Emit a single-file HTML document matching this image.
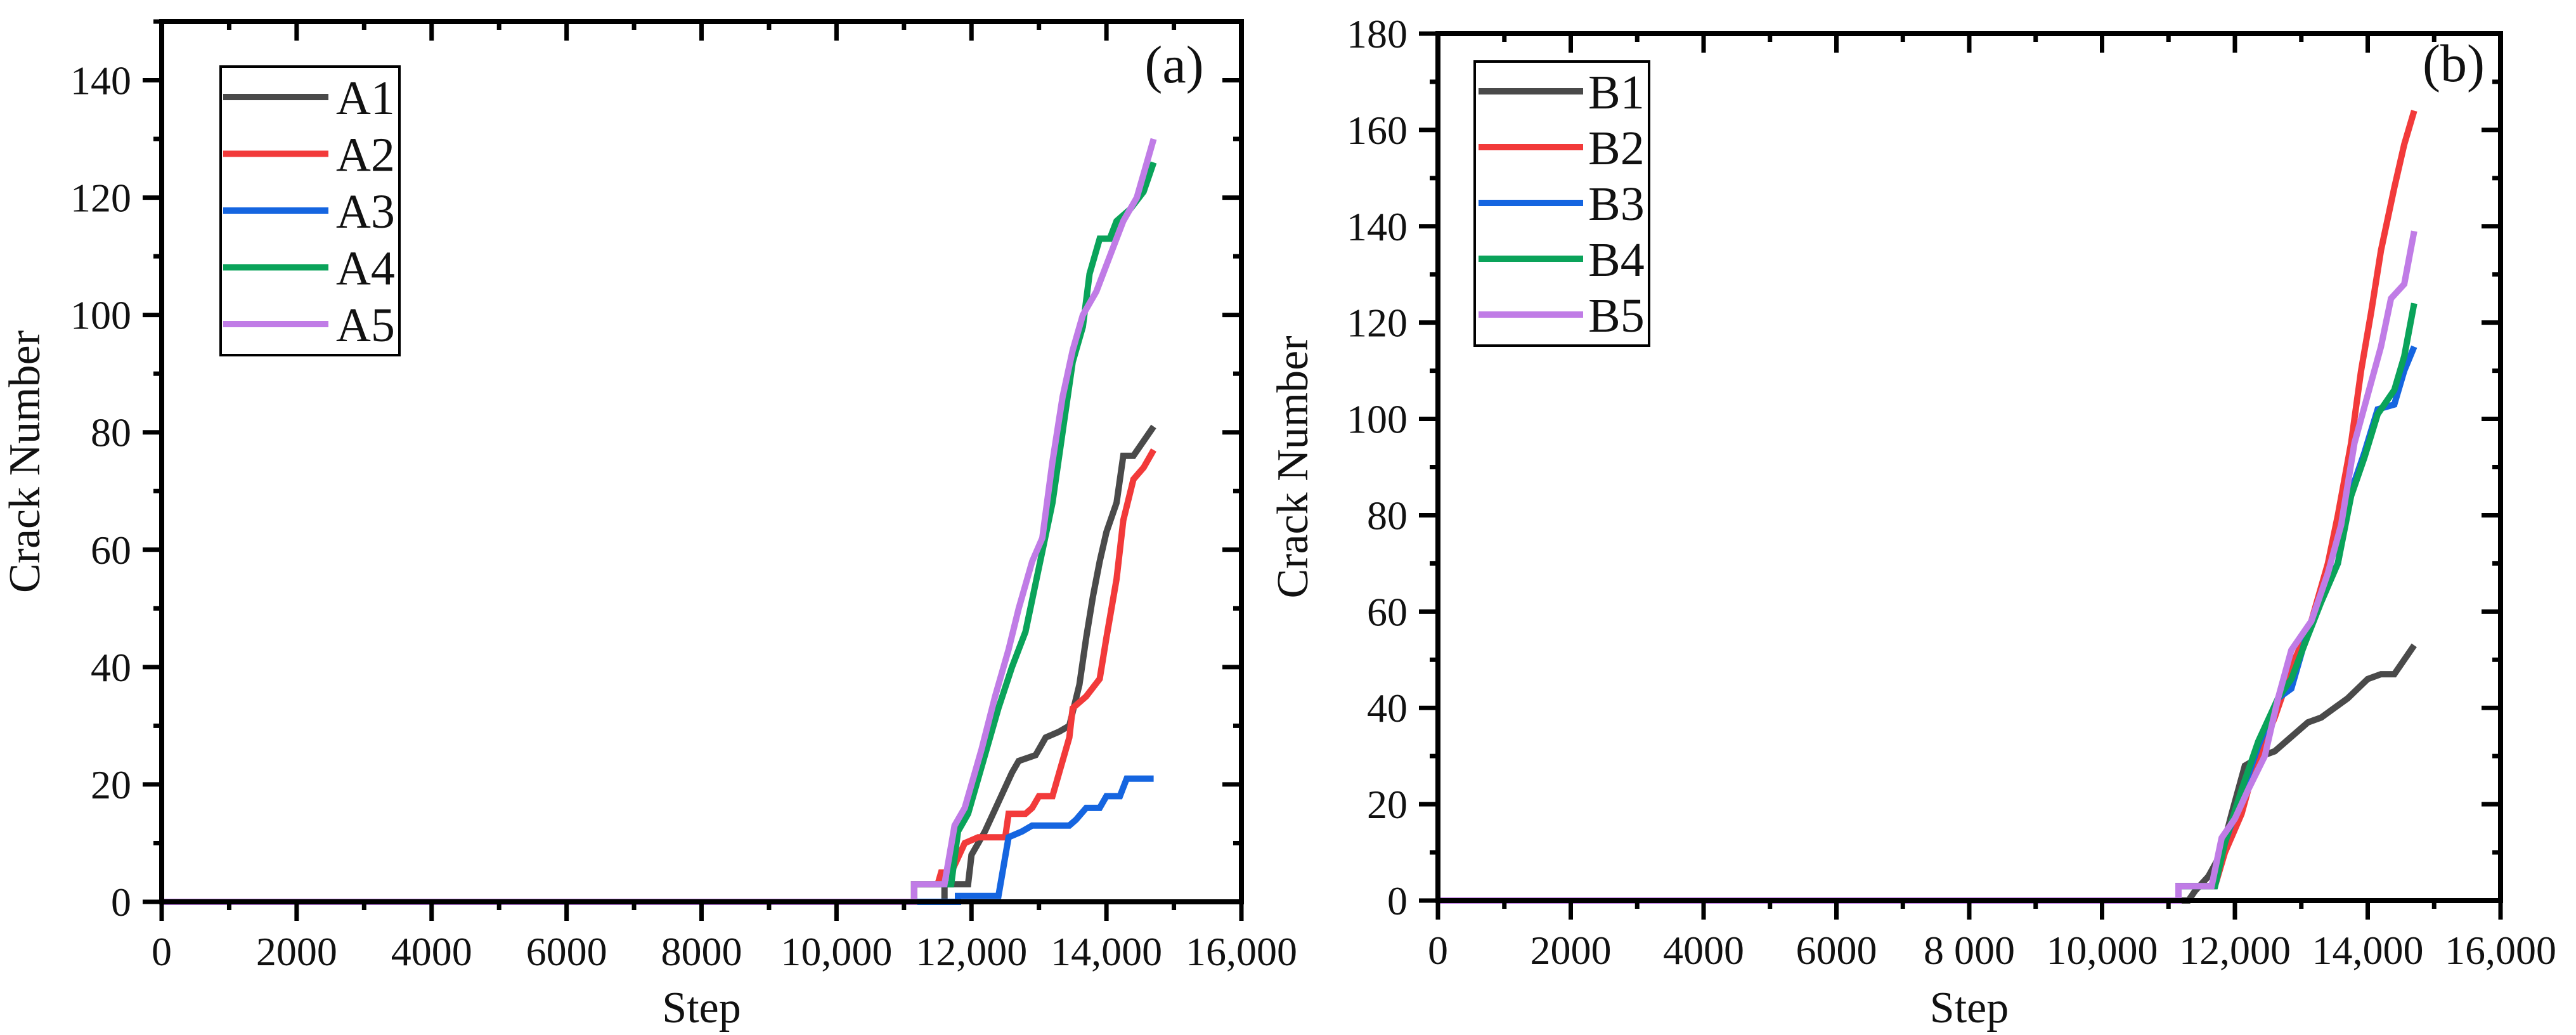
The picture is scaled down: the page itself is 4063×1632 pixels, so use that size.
<!DOCTYPE html>
<html><head><meta charset="utf-8"><style>
html,body{margin:0;padding:0;background:#fff;}
svg{display:block;font-family:"Liberation Serif",serif;}
</style></head><body>
<svg id="chart" width="4063" height="1632" viewBox="0 0 4063 1632" xmlns="http://www.w3.org/2000/svg"></svg>
<script>
const xTicks=[0,2000,4000,6000,8000,10000,12000,14000,16000];
const xTickLabelsA=["0","2000","4000","6000","8000","10,000","12,000","14,000","16,000"];
const xTickLabelsB=["0","2000","4000","6000","8 000","10,000","12,000","14,000","16,000"];
const yTicksA=[0,20,40,60,80,100,120,140];
const yTicksB=[0,20,40,60,80,100,120,140,160,180];
const namesA=["A1","A2","A3","A4","A5"];
const namesB=["B1","B2","B3","B4","B5"];
const colors=["#4a4a4a","#f23a3a","#1565e0","#0aa35a","#c07ce6"];
const stepsA1=[0,11600,11600,11950,12000,12200,12400,12600,12700,12950,13100,13300,13450,13600,13700,13800,13900,14000,14150,14250,14400,14700];
const valsA1=[0,0,3,3,8,12,17,22,24,25,28,29,30,37,45,52,58,63,68,76,76,81];
const stepsA2=[0,11150,11150,11500,11550,11700,11900,12100,12500,12550,12800,12900,13000,13200,13300,13450,13500,13700,13900,14000,14150,14250,14400,14550,14700];
const valsA2=[0,0,3,3,5,5,10,11,11,15,15,16,18,18,22,28,33,35,38,45,55,65,72,74,77];
const stepsA3=[0,11800,11800,12400,12550,12750,12900,13450,13550,13700,13900,14000,14200,14300,14700];
const valsA3=[0,0,1,1,11,12,13,13,14,16,16,18,18,21,21];
const stepsA4=[0,11150,11150,11700,11800,11950,12200,12400,12600,12800,13000,13200,13350,13500,13650,13750,13900,14050,14150,14350,14550,14700];
const valsA4=[0,0,3,3,12,15,25,33,40,46,57,68,80,92,98,107,113,113,116,118,121,126];
const stepsA5=[0,11150,11150,11600,11750,11900,12150,12350,12550,12700,12900,13050,13200,13350,13500,13650,13850,14050,14250,14450,14700];
const valsA5=[0,0,3,3,13,16,26,35,43,50,58,62,75,86,94,100,104,110,116,120,130];
const stepsB1=[0,11300,11400,11600,11800,11950,12150,12400,12600,12850,13100,13300,13500,13700,13850,14000,14200,14400,14550,14700];
const valsB1=[0,0,2,5,10,18,28,30,31,34,37,38,40,42,44,46,47,47,50,53];
const stepsB2=[0,11150,11150,11700,11850,12100,12300,12600,12900,13150,13400,13550,13750,13900,14050,14200,14400,14550,14700];
const valsB2=[0,0,3,3,10,18,28,38,50,58,70,80,95,110,122,135,148,157,164];
const stepsB3=[0,11150,11150,11700,11850,12100,12350,12650,12850,13100,13300,13550,13750,13950,14150,14400,14550,14700];
const valsB3=[0,0,3,3,12,22,32,42,44,56,63,70,85,93,102,103,110,115];
const stepsB4=[0,11150,11150,11700,11850,12100,12350,12650,12850,13100,13300,13550,13750,13950,14150,14400,14550,14700];
const valsB4=[0,0,3,3,12,23,33,42,46,55,62,70,84,92,101,106,113,124];
const stepsB5=[0,11150,11150,11650,11800,12000,12200,12450,12650,12850,13150,13400,13600,13800,14000,14200,14350,14550,14700];
const valsB5=[0,0,3,3,13,17,23,30,42,52,58,68,78,95,105,115,125,128,139];

const NS="http://www.w3.org/2000/svg";
const svg=document.getElementById('chart');
function mk(tag,attrs,parent){const e=document.createElementNS(NS,tag);for(const k in attrs)e.setAttribute(k,attrs[k]);(parent||svg).appendChild(e);return e;}

function panel(cfg){
  const g=mk('g',{});
  
  
  const L=cfg.L,R=cfg.R,T=cfg.T,B=cfg.B;
  const sx=v=>L+(v-0)/(16000)*(R-L);
  const sy=v=>B-(v/cfg.ymax)*(B-T);
  cfg.series.forEach((s,i)=>{
    const pts=s.x.map((xv,j)=>sx(xv).toFixed(1)+','+sy(s.y[j]).toFixed(1)).join(' ');
    const p=mk('polyline',{points:pts,fill:'none',stroke:colors[i],'stroke-width':10,'stroke-linejoin':'miter'},g);
    
    
  });
  const fr=mk('rect',{x:L,y:T,width:R-L,height:B-T,fill:'none',stroke:'#000','stroke-width':8},g);
  
  
  xTicks.forEach((t,i)=>{
    const x=sx(t);
    mk('line',{x1:x,y1:B,x2:x,y2:B+30,stroke:'#000','stroke-width':7},g);
    mk('line',{x1:x,y1:T,x2:x,y2:T+30,stroke:'#000','stroke-width':7},g);
    if(i<xTicks.length-1){const xm=sx(t+1000);
      mk('line',{x1:xm,y1:B,x2:xm,y2:B+13,stroke:'#000','stroke-width':7},g);
      mk('line',{x1:xm,y1:T,x2:xm,y2:T+13,stroke:'#000','stroke-width':7},g);}
    const tx=mk('text',{x:x,y:B+100,'font-size':64,'text-anchor':'middle',fill:'#111'},g);
    tx.textContent=cfg.xl[i];
    
    
  });
  cfg.yt.forEach((t,i)=>{
    const y=sy(t);
    mk('line',{x1:L-30,y1:y,x2:L,y2:y,stroke:'#000','stroke-width':7},g);
    mk('line',{x1:R-30,y1:y,x2:R,y2:y,stroke:'#000','stroke-width':7},g);
    if(t+10<=cfg.ymax){const ym=sy(t+10);
      mk('line',{x1:L-13,y1:ym,x2:L,y2:ym,stroke:'#000','stroke-width':7},g);
      mk('line',{x1:R-13,y1:ym,x2:R,y2:ym,stroke:'#000','stroke-width':7},g);}
    const tx=mk('text',{x:L-48,y:y+22,'font-size':64,'text-anchor':'end',fill:'#111'},g);
    tx.textContent=String(t);
    
    
  });
  const xt=mk('text',{x:(L+R)/2,y:1612,'font-size':70,'text-anchor':'middle',fill:'#111'},g);
  xt.textContent='Step';
  
  
  const yt=mk('text',{x:0,y:0,'font-size':70,'text-anchor':'middle',fill:'#111',transform:'translate('+cfg.ytx+','+((T+B)/2)+') rotate(-90)'},g);
  yt.textContent='Crack Number';
  
  
  const pl=mk('text',{x:cfg.plx,y:cfg.ply,'font-size':84,'text-anchor':'middle',fill:'#111'},g);
  pl.textContent=cfg.label;
  
  
  const lg=mk('g',{},g);
  
  
  mk('rect',{x:cfg.lg.x,y:cfg.lg.y,width:cfg.lg.w,height:cfg.lg.h,fill:'#fff',stroke:'#000','stroke-width':4},lg);
  cfg.names.forEach((n,i)=>{
    const y=cfg.lg.ey0+i*cfg.lg.dy;
    const e=mk('g',{},lg);
    
    
    mk('line',{x1:cfg.lg.lx1,y1:y,x2:cfg.lg.lx2,y2:y,stroke:colors[i],'stroke-width':10},e);
    const t=mk('text',{x:cfg.lg.tx,y:y+27,'font-size':76,fill:'#111'},e);
    t.textContent=n;
  });
}
panel({id:'panel-a',L:255,R:1958,T:34,B:1422,ymax:150,yt:yTicksA,xl:xTickLabelsA,names:namesA,label:'(a)',plx:1852,ply:130,ytx:62,
  series:[{x:stepsA1,y:valsA1},{x:stepsA2,y:valsA2},{x:stepsA3,y:valsA3},{x:stepsA4,y:valsA4},{x:stepsA5,y:valsA5}],
  lg:{x:348,y:105,w:282,h:455,ey0:153,dy:89.5,lx1:352,lx2:518,tx:530}});
panel({id:'panel-b',L:2268,R:3944,T:53,B:1420,ymax:180,yt:yTicksB,xl:xTickLabelsB,names:namesB,label:'(b)',plx:3870,ply:128,ytx:2062,
  series:[{x:stepsB1,y:valsB1},{x:stepsB2,y:valsB2},{x:stepsB3,y:valsB3},{x:stepsB4,y:valsB4},{x:stepsB5,y:valsB5}],
  lg:{x:2326,y:97,w:275,h:448,ey0:144,dy:88,lx1:2332,lx2:2497,tx:2505}});
</script>
</body></html>
